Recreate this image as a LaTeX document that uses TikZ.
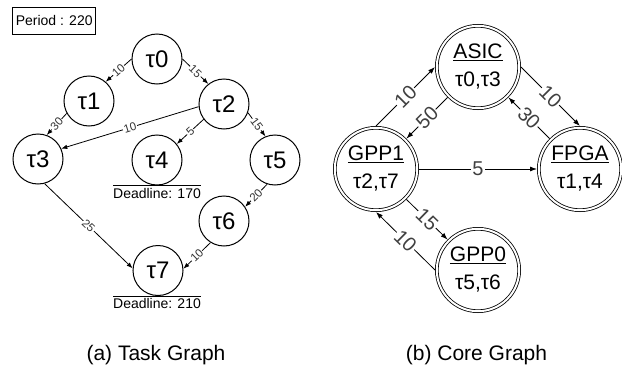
\documentclass[tikz,border=0pt]{standalone}
\usepackage{fontspec}
\setmainfont{Liberation Sans}
\usetikzlibrary{arrows.meta}
\begin{document}
\begin{tikzpicture}[x=1pt,y=-1pt,
  task/.style={circle,draw,line width=1pt,minimum size=50pt,inner sep=0pt,font=\fontsize{24}{28}\selectfont},
  core/.style={circle,draw,line width=0.8pt,double,double distance=2pt,minimum size=82.4pt,inner sep=0pt,outer sep=1.8pt,align=center,font=\fontsize{21}{28}\selectfont},
  tedge/.style={line width=0.8pt,-{Latex[length=6pt,width=4.5pt]}},
  tlab/.style={sloped,fill=white,inner sep=0.8pt,font=\fontsize{11.5}{12}\selectfont,text=black!80},
  cedge/.style={line width=0.8pt,-{Latex[length=7pt,width=5pt]}},
  clab/.style={sloped,fill=white,inner sep=1pt,font=\fontsize{20}{22}\selectfont,text=black!75},
  smalltext/.style={font=\fontsize{14}{16}\selectfont},
  captext/.style={font=\fontsize{21}{24}\selectfont,anchor=base},
]
\useasboundingbox (0,0) rectangle (622,367);
% ---- Task graph ----
\node[draw,line width=0.8pt,smalltext,minimum width=83pt,minimum height=26.7pt,inner sep=1pt] (period) at (54.2,20.6) {Period : 220};
\node[task] (t0) at (157,59) {τ0};
\node[task] (t1) at (89,101) {τ1};
\node[task] (t2) at (224,104) {τ2};
\node[task] (t3) at (38,159) {τ3};
\node[task] (t4) at (157,160) {τ4};
\node[task] (t5) at (275,160) {τ5};
\node[task] (t6) at (224,221) {τ6};
\node[task] (t7) at (158,270.5) {τ7};

\draw[tedge] (t0.180) -- node[tlab]{10} (t1.49);
\draw[tedge] (t0.0) -- node[tlab]{15} (t2.128);
\draw[tedge] (t1.209) -- node[tlab]{30} (t3.70);
\draw[tedge] (t2.186) -- node[tlab]{10} (t3.24);
\draw[tedge] (t2.217) -- node[tlab]{5} (t4.39);
\draw[tedge] (t2.-20) -- node[tlab]{15} (t5.112);
\draw[tedge] (t5.252) -- node[tlab]{20} (t6.34);
\draw[tedge] (t6.238) -- node[tlab]{10} (t7.4);
\draw[tedge] (t3.-75) -- node[tlab]{25} (t7.175);

\draw[line width=1pt] ([xshift=-44pt]t4.south) -- ([xshift=44pt]t4.south);
\node[smalltext] (d4) at (157,193) {Deadline: 170};
\draw[line width=1pt] ([xshift=-45pt]t7.south) -- ([xshift=43pt]t7.south);
\node[smalltext] (d7) at (157,303) {Deadline: 210};

\node[captext] (capa) at (156,360) {(a) Task Graph};

% ---- Core graph ----
\node[core] (asic) at (478,67) {\underline{ASIC}\\τ0,τ3};
\node[core] (gpp1) at (376,169) {\underline{GPP1}\\τ2,τ7};
\node[core] (fpga) at (580,169) {\underline{FPGA}\\τ1,τ4};
\node[core] (gpp0) at (478,270) {\underline{GPP0}\\τ5,τ6};

\draw[cedge] (gpp1.90) -- node[clab]{10} (asic.180);
\draw[cedge] (asic.225) -- node[clab]{50} (gpp1.45);
\draw[cedge] (asic.0) -- node[clab]{10} (fpga.90);
\draw[cedge] (fpga.135) -- node[clab]{30} (asic.315);
\draw[cedge] (gpp1.0) -- node[clab]{5} (fpga.180);
\draw[cedge] (gpp1.315) -- node[clab]{15} (gpp0.135);
\draw[cedge] (gpp0.180) -- node[clab]{10} (gpp1.270);

\node[captext] (capb) at (476.5,360) {(b) Core Graph};
\end{tikzpicture}
\end{document}
